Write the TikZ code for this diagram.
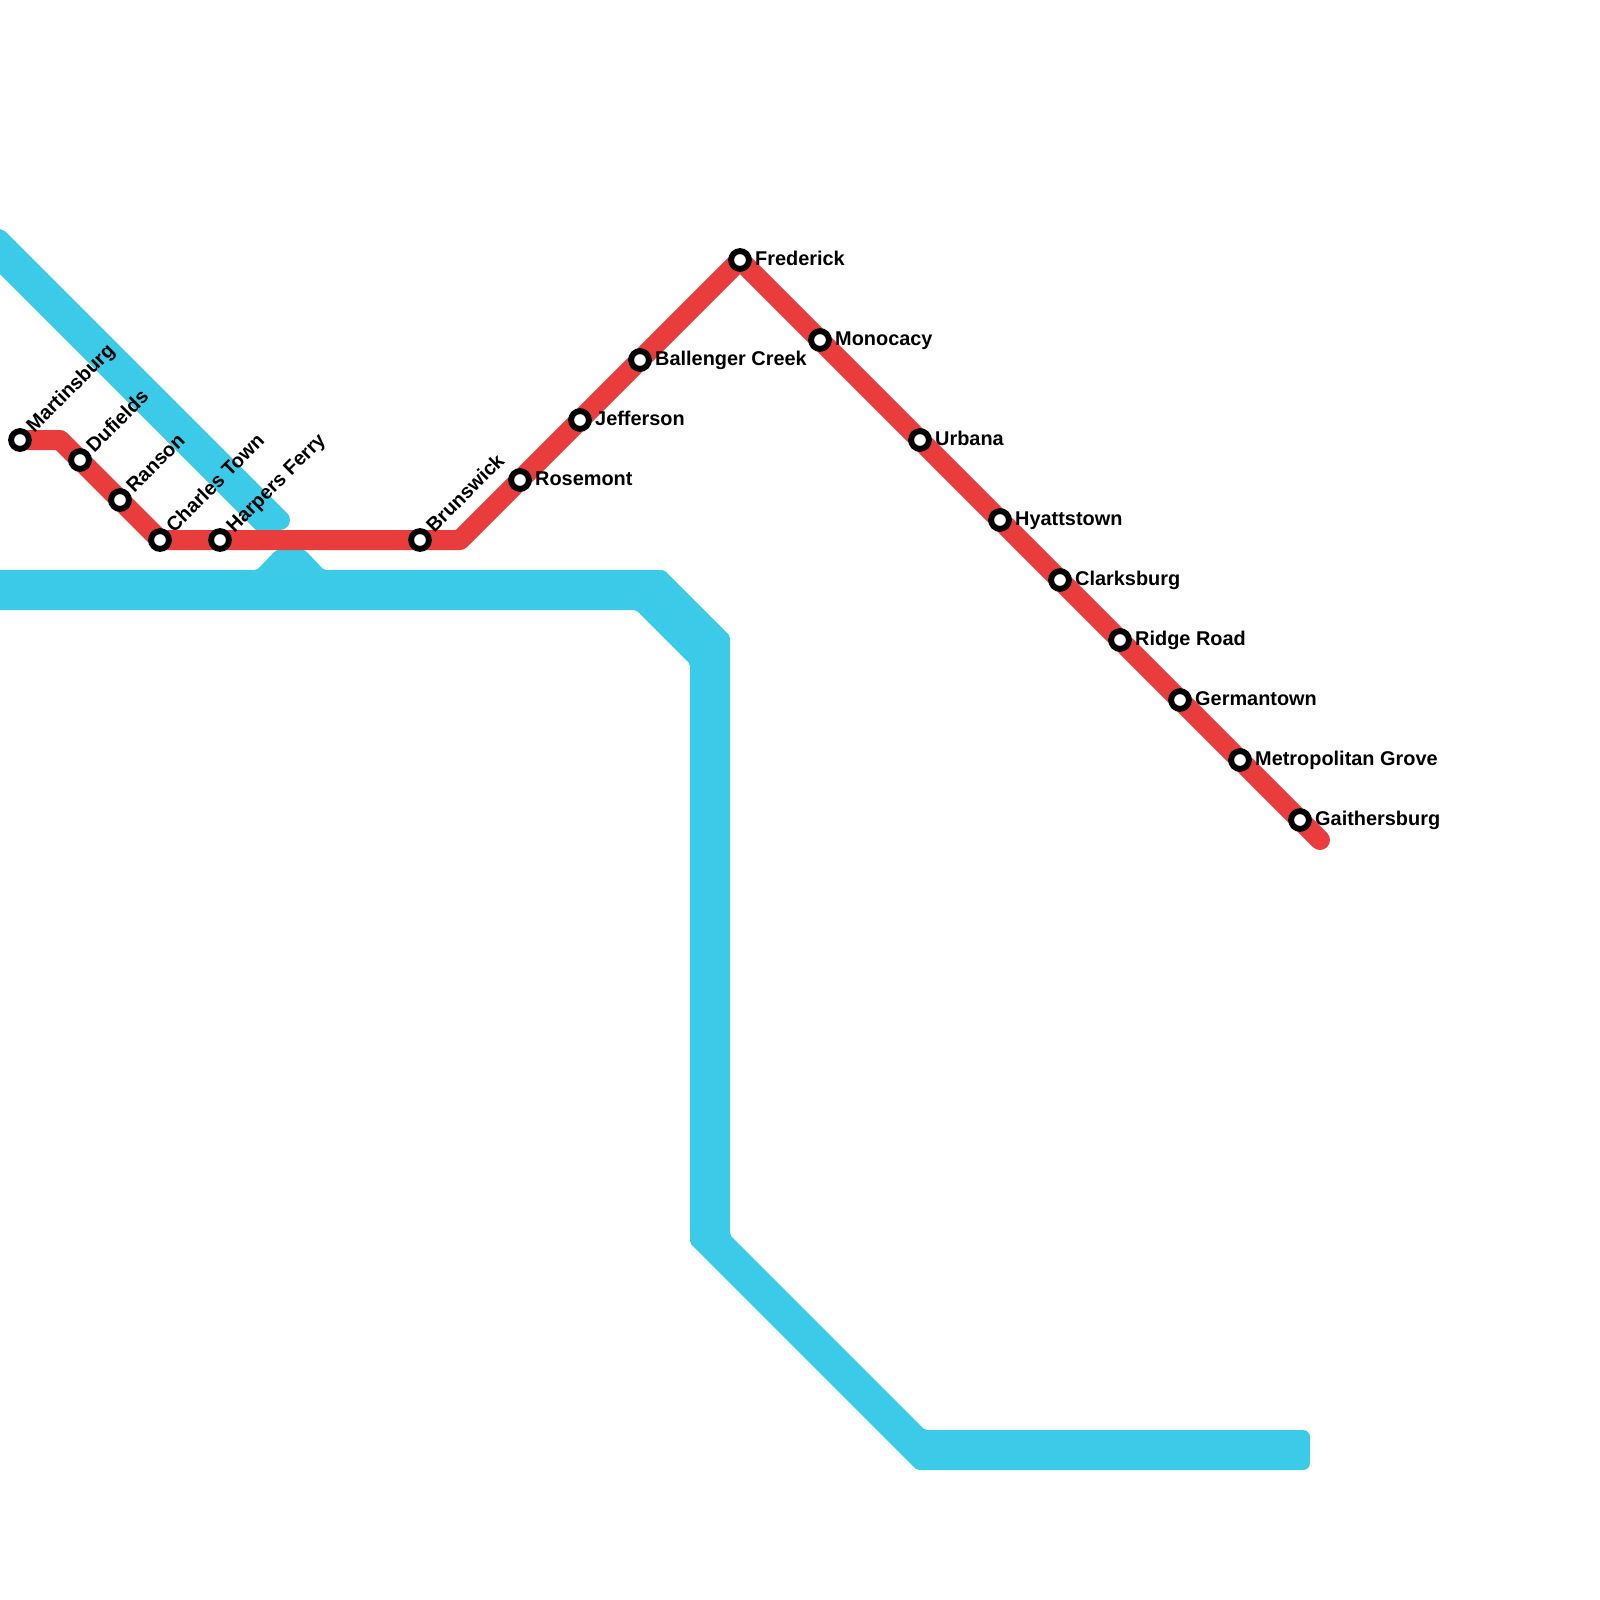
\documentclass[tikz,border=0pt]{standalone}
\usepackage{fontspec}
\setmainfont{Liberation Sans}
\definecolor{lineblue}{HTML}{3CCAE9}
\definecolor{linered}{HTML}{E93D3D}
\pgfdeclarelayer{lines}
\pgfsetlayers{lines,main}
\tikzset{
  bluefill/.style={fill=lineblue,draw=none},
  redline/.style={draw=linered,line width=20pt,line cap=round,line join=round},
  stn/.style={circle,draw=black,fill=white,line width=5.9pt,minimum size=17.8pt,inner sep=0pt,outer sep=0pt},
  lab/.style={anchor=base west,inner sep=0pt,outer sep=0pt,font=\fontsize{19.9}{20}\selectfont\bfseries,text=black}
}
\begin{document}
\begin{tikzpicture}[x=1pt,y=-1pt]
\useasboundingbox (0,0) rectangle (1600,1600);
\clip (0,0) rectangle (1600,1600);
\coordinate (bA) at (60,440);
\coordinate (bB) at (460,540);
\coordinate (rend) at (1320,840);
\node[stn] (martinsburg) at (20,440) {};
\node[stn] (dufields) at (80,460) {};
\node[stn] (ranson) at (120,500) {};
\node[stn] (charles) at (160,540) {};
\node[stn] (harpers) at (220,540) {};
\node[stn] (brunswick) at (420,540) {};
\node[stn] (rosemont) at (520,480) {};
\node[stn] (jefferson) at (580,420) {};
\node[stn] (ballenger) at (640,360) {};
\node[stn] (frederick) at (740,260) {};
\node[stn] (monocacy) at (820,340) {};
\node[stn] (urbana) at (920,440) {};
\node[stn] (hyatts) at (1000,520) {};
\node[stn] (clarks) at (1060,580) {};
\node[stn] (ridge) at (1120,640) {};
\node[stn] (german) at (1180,700) {};
\node[stn] (metro) at (1240,760) {};
\node[stn] (gaithers) at (1300,820) {};
\begin{pgfonlayer}{lines}
% blue lines
\fill[bluefill,rounded corners=5pt] (-20,229) -- (3,229) [sharp corners] -- (287,513) .. controls (289,515) and (290,517.5) .. (290,520) .. controls (290,525.5) and (285.5,530) .. (280,530) -- (256,530) -- (-20,254) -- cycle;
\fill[bluefill,rounded corners=3pt] (-20,570) -- (257,570) [rounded corners=5pt] -- (277,549) -- (304,549) [rounded corners=2pt] -- (324,570) -- (664,570) -- (730,636) -- (730,1235) -- (925,1430) [rounded corners=7pt] -- (1310,1430) -- (1310,1470) [rounded corners=2pt] -- (917,1470) -- (690,1243) -- (690,664) -- (636,610) -- (-20,610) -- cycle;
% red line
\draw[redline] (martinsburg.center) -- (bA) -- (charles.center) -- (bB) -- (frederick.center) -- (rend);
\end{pgfonlayer}
% labels
\node[lab,rotate=45] (l1) at ([shift={(14.3,-6.5)}]martinsburg.center) {Martinsburg};
\node[lab,rotate=45] (l2) at ([shift={(14.3,-6.5)}]dufields.center) {Dufields};
\node[lab,rotate=45] (l3) at ([shift={(14.3,-6.5)}]ranson.center) {Ranson};
\node[lab,rotate=45] (l4) at ([shift={(14.3,-6.5)}]charles.center) {Charles Town};
\node[lab,rotate=45] (l5) at ([shift={(14.3,-6.5)}]harpers.center) {Harpers Ferry};
\node[lab,rotate=45] (l6) at ([shift={(14.3,-6.5)}]brunswick.center) {Brunswick};
\node[lab] (l7) at ([shift={(15.2,5)}]rosemont.center) {Rosemont};
\node[lab] (l8) at ([shift={(15.2,5)}]jefferson.center) {Jefferson};
\node[lab] (l9) at ([shift={(15.2,5)}]ballenger.center) {Ballenger Creek};
\node[lab] (l10) at ([shift={(15.2,5)}]frederick.center) {Frederick};
\node[lab] (l11) at ([shift={(15.2,5)}]monocacy.center) {Monocacy};
\node[lab] (l12) at ([shift={(15.2,5)}]urbana.center) {Urbana};
\node[lab] (l13) at ([shift={(15.2,5)}]hyatts.center) {Hyattstown};
\node[lab] (l14) at ([shift={(15.2,5)}]clarks.center) {Clarksburg};
\node[lab] (l15) at ([shift={(15.2,5)}]ridge.center) {Ridge Road};
\node[lab] (l16) at ([shift={(15.2,5)}]german.center) {Germantown};
\node[lab] (l17) at ([shift={(15.2,5)}]metro.center) {Metropolitan Grove};
\node[lab] (l18) at ([shift={(15.2,5)}]gaithers.center) {Gaithersburg};
\end{tikzpicture}
\end{document}
